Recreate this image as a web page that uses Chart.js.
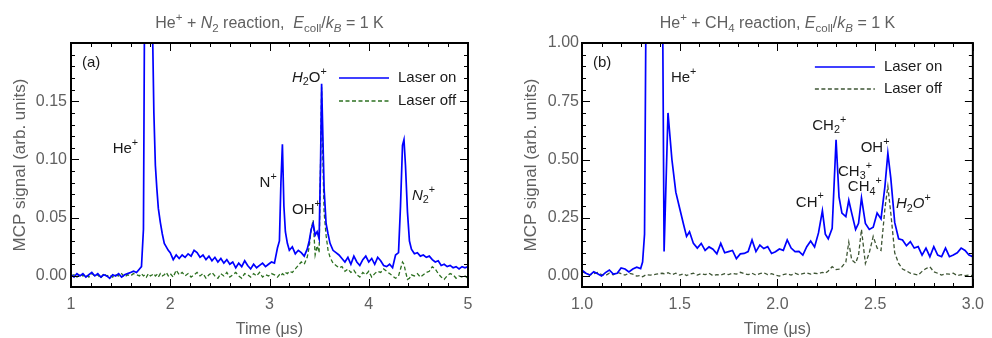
<!DOCTYPE html>
<html>
<head>
<meta charset="utf-8">
<script src="https://cdn.jsdelivr.net/npm/chart.js@4"></script>
<style>
  html, body { margin: 0; padding: 0; background: #fff; }
  .panneaux { position: relative; width: 992px; height: 338px; }
  .panneaux canvas { position: absolute; top: 0; }
</style>
</head>
<body>
<div class="panneaux">
  <canvas id="graphe-n2" width="496" height="338" style="left:0"></canvas>
  <canvas id="graphe-ch4" width="496" height="338" style="left:496px"></canvas>
</div>
<script>
// --- (a) He+ + N2 : temps de vol (µs) et signal MCP ---
const tempsA = [
  1.00, 1.03, 1.06, 1.09, 1.12, 1.15, 1.18, 1.21, 1.24, 1.27,
  1.30, 1.33, 1.36, 1.39, 1.42, 1.45, 1.48, 1.51, 1.54, 1.57,
  1.60, 1.63, 1.66, 1.69, 1.71, 1.73, 1.745, 1.76, 1.78, 1.80,
  1.82, 1.835, 1.85, 1.865, 1.88, 1.90, 1.92, 1.94, 1.96, 1.98,
  2.00, 2.03, 2.06, 2.09, 2.12, 2.15, 2.18, 2.21, 2.24, 2.27,
  2.30, 2.33, 2.36, 2.39, 2.42, 2.45, 2.48, 2.51, 2.54, 2.57,
  2.60, 2.63, 2.66, 2.69, 2.72, 2.75, 2.78, 2.81, 2.84, 2.87,
  2.90, 2.93, 2.96, 2.99, 3.02, 3.05, 3.08, 3.10, 3.115, 3.13,
  3.145, 3.16, 3.18, 3.20, 3.23, 3.26, 3.29, 3.32, 3.35, 3.38,
  3.40, 3.42, 3.44, 3.46, 3.48, 3.50, 3.515, 3.525, 3.535, 3.55,
  3.57, 3.59, 3.61, 3.64, 3.67, 3.70, 3.73, 3.76, 3.79, 3.82,
  3.85, 3.88, 3.91, 3.94, 3.97, 4.00, 4.03, 4.06, 4.09, 4.12,
  4.15, 4.18, 4.21, 4.24, 4.27, 4.30, 4.32, 4.34, 4.355, 4.37,
  4.39, 4.41, 4.43, 4.46, 4.49, 4.52, 4.55, 4.58, 4.61, 4.64,
  4.67, 4.70, 4.73, 4.76, 4.79, 4.82, 4.85, 4.88, 4.91, 4.94,
  4.97, 5.00,
];
const laserOnA = [
  0.001, -0.001, 0.002, 0.000, 0.002, -0.001, 0.001, 0.003, 0.000, 0.002,
  -0.001, 0.001, 0.000, -0.002, 0.001, 0.000, 0.002, -0.001, 0.001, 0.002,
  0.003, 0.004, 0.003, 0.006, 0.008, 0.040, 0.300, 0.900, 1.000, 0.800,
  0.220, 0.140, 0.095, 0.075, 0.058, 0.046, 0.036, 0.028, 0.025, 0.022,
  0.020, 0.014, 0.018, 0.015, 0.018, 0.016, 0.019, 0.017, 0.022, 0.020,
  0.016, 0.018, 0.014, 0.017, 0.013, 0.016, 0.012, 0.015, 0.011, 0.014,
  0.010, 0.012, 0.007, 0.011, 0.008, 0.013, 0.009, 0.006, 0.010, 0.007,
  0.009, 0.011, 0.008, 0.010, 0.012, 0.011, 0.024, 0.030, 0.080, 0.113,
  0.060, 0.038, 0.028, 0.022, 0.025, 0.019, 0.022, 0.020, 0.017, 0.023,
  0.030, 0.040, 0.045, 0.035, 0.038, 0.032, 0.100, 0.165, 0.130, 0.075,
  0.045, 0.036, 0.028, 0.022, 0.020, 0.018, 0.015, 0.012, 0.016, 0.010,
  0.017, 0.012, 0.009, 0.014, 0.017, 0.012, 0.015, 0.010, 0.016, 0.013,
  0.009, 0.008, 0.010, 0.007, 0.018, 0.020, 0.060, 0.112, 0.117, 0.095,
  0.055, 0.030, 0.023, 0.019, 0.020, 0.017, 0.018, 0.016, 0.017, 0.014,
  0.012, 0.013, 0.009, 0.010, 0.008, 0.009, 0.007, 0.008, 0.006, 0.008,
  0.007, 0.008,
];
const laserOffA = [
  0.000, 0.001, -0.001, 0.002, 0.000, 0.001, -0.001, 0.002, 0.000, 0.001,
  -0.002, 0.002, 0.000, 0.001, -0.001, 0.001, 0.000, 0.002, -0.001, 0.001,
  0.000, 0.002, 0.001, 0.000, 0.002, 0.000, 0.001, -0.001, 0.002, 0.000,
  0.001, 0.002, 0.000, 0.001, -0.001, 0.002, 0.000, 0.001, 0.003, 0.000,
  0.002, -0.001, 0.005, 0.001, 0.003, 0.000, 0.002, -0.001, 0.001, 0.003,
  0.000, 0.002, -0.002, 0.001, 0.003, 0.000, -0.002, 0.002, 0.000, 0.003,
  -0.001, 0.001, 0.003, 0.000, -0.002, 0.002, 0.001, -0.001, 0.002, 0.000,
  0.003, -0.001, 0.001, 0.000, 0.002, 0.001, -0.001, 0.001, 0.000, 0.002,
  0.001, 0.003, 0.002, 0.004, 0.003, 0.006, 0.009, 0.012, 0.010, 0.016,
  0.025, 0.040, 0.048, 0.018, 0.026, 0.020, 0.100, 0.162, 0.110, 0.055,
  0.035, 0.022, 0.016, 0.011, 0.009, 0.007, 0.008, 0.004, 0.006, 0.003,
  0.005, 0.001, -0.001, 0.003, 0.001, 0.004, -0.001, 0.002, 0.004, 0.003,
  0.006, 0.004, 0.002, 0.000, -0.002, 0.000, 0.006, 0.012, 0.010, 0.004,
  -0.003, -0.002, 0.001, 0.000, 0.002, -0.001, 0.001, 0.003, 0.004, 0.008,
  0.006, 0.002, -0.001, -0.003, 0.000, 0.002, 0.001, -0.002, 0.000, -0.001,
  0.000, -0.002,
];
const ticksXA = [1, 2, 3, 4, 5];
const ticksYA = [0, 0.05, 0.10, 0.15];

// --- (b) He+ + CH4 ---
const tempsB = [
  1.00, 1.02, 1.04, 1.06, 1.08, 1.10, 1.12, 1.14, 1.16, 1.18,
  1.20, 1.22, 1.24, 1.26, 1.28, 1.30, 1.31, 1.32, 1.33, 1.35,
  1.38, 1.41, 1.42, 1.44, 1.46, 1.48, 1.50, 1.52, 1.535, 1.55,
  1.57, 1.59, 1.61, 1.63, 1.65, 1.67, 1.69, 1.71, 1.73, 1.75,
  1.77, 1.79, 1.81, 1.83, 1.85, 1.87, 1.89, 1.91, 1.93, 1.95,
  1.97, 1.99, 2.01, 2.03, 2.05, 2.07, 2.09, 2.11, 2.13, 2.15,
  2.17, 2.19, 2.21, 2.23, 2.245, 2.26, 2.28, 2.30, 2.315, 2.33,
  2.35, 2.365, 2.38, 2.40, 2.415, 2.43, 2.45, 2.47, 2.49, 2.51,
  2.53, 2.55, 2.565, 2.58, 2.60, 2.62, 2.64, 2.66, 2.68, 2.70,
  2.72, 2.74, 2.76, 2.78, 2.80, 2.82, 2.84, 2.86, 2.88, 2.90,
  2.92, 2.94, 2.96, 2.98, 3.00,
];
const laserOnB = [
  0.025, 0.012, 0.004, 0.018, 0.010, 0.000, 0.015, 0.026, 0.008, 0.012,
  0.035, 0.030, 0.018, 0.030, 0.038, 0.032, 0.060, 0.180, 1.500, 3.000,
  3.000, 1.500, 0.105, 0.700, 0.500, 0.360, 0.290, 0.220, 0.170, 0.190,
  0.140, 0.120, 0.140, 0.110, 0.125, 0.115, 0.095, 0.140, 0.100, 0.105,
  0.110, 0.075, 0.095, 0.097, 0.105, 0.155, 0.105, 0.133, 0.118, 0.126,
  0.097, 0.104, 0.116, 0.110, 0.155, 0.120, 0.105, 0.106, 0.090, 0.126,
  0.150, 0.125, 0.185, 0.280, 0.180, 0.160, 0.205, 0.585, 0.340, 0.270,
  0.255, 0.325, 0.270, 0.200, 0.226, 0.335, 0.226, 0.200, 0.210, 0.270,
  0.245, 0.385, 0.527, 0.420, 0.230, 0.160, 0.155, 0.130, 0.148, 0.120,
  0.126, 0.090, 0.120, 0.083, 0.126, 0.090, 0.083, 0.120, 0.083, 0.090,
  0.100, 0.120, 0.110, 0.090, 0.083,
];
const laserOffB = [
  0.018, 0.012, 0.004, 0.010, 0.015, 0.006, 0.002, 0.012, 0.005, 0.016,
  0.010, 0.004, 0.012, 0.008, 0.000, 0.002, -0.003, 0.002, 0.006, 0.004,
  0.008, 0.012, 0.010, 0.014, 0.006, 0.012, 0.004, 0.010, 0.002, 0.008,
  0.012, 0.004, 0.010, 0.006, 0.012, 0.002, 0.006, 0.004, 0.010, 0.006,
  0.012, 0.008, 0.016, 0.010, 0.006, 0.012, 0.004, 0.010, 0.014, 0.006,
  0.010, 0.004, 0.000, 0.006, 0.010, 0.004, 0.012, 0.006, 0.010, 0.014,
  0.008, 0.012, 0.010, 0.016, 0.012, 0.022, 0.040, 0.028, 0.030, 0.040,
  0.060, 0.145, 0.070, 0.055, 0.090, 0.200, 0.054, 0.100, 0.170, 0.120,
  0.110, 0.290, 0.385, 0.270, 0.100, 0.054, 0.030, 0.022, 0.012, 0.008,
  0.004, 0.020, 0.032, 0.040, 0.018, 0.012, 0.004, 0.010, 0.008, 0.012,
  0.002, 0.006, 0.002, 0.004, 0.002,
];
const ticksXB = [1, 1.5, 2, 2.5, 3];
const ticksYB = [0, 0.25, 0.50, 0.75, 1.00];

// Étiquettes des pics (coordonnées données : temps, signal)
const picsA = [
  { t: 1.11, v: 0.183, txt: [['(a)']] },
  { t: 1.42, v: 0.109, txt: [['He'], ['+', 'sup']] },
  { t: 2.90, v: 0.080, txt: [['N'], ['+', 'sup']] },
  { t: 3.227, v: 0.057, txt: [['OH'], ['+', 'sup']] },
  { t: 3.227, v: 0.170, txt: [['H', 'it'], ['2', 'sub'], ['O'], ['+', 'sup']] },
  { t: 4.436, v: 0.069, txt: [['N', 'it'], ['2', 'sub'], ['+', 'sup']] },
];
const picsB = [
  { t: 1.056, v: 0.915, txt: [['(b)']] },
  { t: 1.455, v: 0.85, txt: [['He'], ['+', 'sup']] },
  { t: 2.094, v: 0.316, txt: [['CH'], ['+', 'sup']] },
  { t: 2.178, v: 0.644, txt: [['CH'], ['2', 'sub'], ['+', 'sup']] },
  { t: 2.31, v: 0.448, txt: [['CH'], ['3', 'sub'], ['+', 'sup']] },
  { t: 2.36, v: 0.381, txt: [['CH'], ['4', 'sub'], ['+', 'sup']] },
  { t: 2.426, v: 0.548, txt: [['OH'], ['+', 'sup']] },
  { t: 2.606, v: 0.309, txt: [['H', 'it'], ['2', 'sub'], ['O', 'it'], ['+', 'sup']] },
];

const POLICE = "'Liberation Sans', Arial, sans-serif";
const GRIS = '#606060';
const BLEU = '#0000ff';

// Texte avec indices / exposants / italique
function tailleRiche(ctx, morceaux, taille) {
  let w = 0;
  for (const [t, style] of morceaux) {
    const petit = style === 'sub' || style === 'sup' || style === 'subit';
    ctx.font = `${style && style.includes('it') ? 'italic ' : ''}${petit ? taille * 0.72 : taille}px ${POLICE}`;
    w += ctx.measureText(t).width;
  }
  return w;
}
function texteRiche(ctx, morceaux, x, y, taille, centre) {
  let cx = centre ? x - tailleRiche(ctx, morceaux, taille) / 2 : x;
  ctx.textBaseline = 'middle';
  ctx.textAlign = 'left';
  for (const [t, style] of morceaux) {
    let dy = 0, fs = taille;
    if (style === 'sub' || style === 'subit') { fs = taille * 0.72; dy = taille * 0.3; }
    if (style === 'sup') { fs = taille * 0.72; dy = -taille * 0.4; }
    ctx.font = `${style && style.includes('it') ? 'italic ' : ''}${fs}px ${POLICE}`;
    ctx.fillText(t, cx, y + dy);
    cx += ctx.measureText(t).width;
  }
}

// Cadre, graduations intérieures, titre, étiquettes et légende
const decor = {
  id: 'decor',
  afterDraw(chart, args, opts) {
    const { ctx, chartArea: a, scales: { x, y } } = chart;
    ctx.save();
    ctx.strokeStyle = '#000';
    ctx.lineWidth = 1;
    const graduer = (scale, pas, long) => {
      const n0 = Math.ceil(scale.min / pas - 1e-6), n1 = Math.floor(scale.max / pas + 1e-6);
      for (let n = n0; n <= n1; n++) {
        const p = Math.round(scale.getPixelForValue(n * pas)) + 0.5;
        ctx.beginPath();
        if (scale.isHorizontal()) {
          ctx.moveTo(p, a.bottom); ctx.lineTo(p, a.bottom - long);
          ctx.moveTo(p, a.top); ctx.lineTo(p, a.top + long);
        } else {
          ctx.moveTo(a.left, p); ctx.lineTo(a.left + long, p);
          ctx.moveTo(a.right, p); ctx.lineTo(a.right - long, p);
        }
        ctx.stroke();
      }
    };
    graduer(x, opts.mineurX, 4);
    graduer(x, opts.majeurX, 8);
    graduer(y, opts.mineurY, 4);
    graduer(y, opts.majeurY, 8);
    ctx.lineWidth = 2;
    ctx.strokeRect(a.left, a.top, a.right - a.left, a.bottom - a.top);

    ctx.fillStyle = GRIS;
    texteRiche(ctx, opts.titre, (a.left + a.right) / 2, 24, 16, true);

    ctx.fillStyle = '#1a1a1a';
    for (const p of opts.pics) {
      texteRiche(ctx, p.txt, x.getPixelForValue(p.t), y.getPixelForValue(p.v), 15, false);
    }

    const L = opts.legende;
    chart.data.datasets.forEach((ds, i) => {
      const yy = a.top + L.y[i];
      ctx.strokeStyle = ds.borderColor;
      ctx.lineWidth = ds.borderWidth;
      ctx.setLineDash(ds.borderDash || []);
      ctx.beginPath();
      ctx.moveTo(a.right - L.debut, yy);
      ctx.lineTo(a.right - L.fin, yy);
      ctx.stroke();
      ctx.setLineDash([]);
      ctx.fillStyle = '#1a1a1a';
      ctx.font = `15px ${POLICE}`;
      ctx.textBaseline = 'middle';
      ctx.fillText(ds.label, a.right - L.texte, yy);
    });
    ctx.restore();
  },
};

function serie(temps, valeurs) {
  return temps.map((t, i) => ({ x: t, y: valeurs[i] }));
}

function creerPanneau(canvas, cfg) {
  return new Chart(canvas, {
    type: 'line',
    data: {
      datasets: [
        { label: 'Laser on', data: serie(cfg.temps, cfg.on), borderColor: BLEU, borderWidth: 1.7 },
        { label: 'Laser off', data: serie(cfg.temps, cfg.off), borderColor: cfg.vert, borderWidth: 1.3, borderDash: [4, 2.5] },
      ],
    },
    options: {
      responsive: false,
      animation: false,
      elements: { point: { radius: 0 }, line: { tension: 0 } },
      layout: { padding: { top: 43, right: cfg.droite, bottom: 0, left: 0 } },
      plugins: {
        legend: { display: false },
        tooltip: { enabled: false },
        decor: cfg.decor,
      },
      scales: {
        x: {
          type: 'linear', min: cfg.xMin, max: cfg.xMax,
          afterBuildTicks: (s) => { s.ticks = cfg.ticksX.map((v) => ({ value: v })); },
          afterFit: (s) => { s.height = 51; },
          grid: { display: false, drawTicks: false },
          border: { display: false },
          ticks: { padding: 8, maxRotation: 0, autoSkip: false, color: GRIS, font: { family: POLICE, size: 16 }, callback: (v) => v.toFixed(cfg.decX) },
          title: { display: true, text: 'Time (μs)', color: GRIS, font: { family: POLICE, size: 16, lineHeight: 1 }, padding: 0 },
        },
        y: {
          type: 'linear', min: cfg.yMin, max: cfg.yMax,
          afterBuildTicks: (s) => { s.ticks = cfg.ticksY.map((v) => ({ value: v })); },
          afterFit: (s) => { s.width = cfg.gauche; },
          grid: { display: false, drawTicks: false },
          border: { display: false },
          ticks: { padding: cfg.padY, autoSkip: false, color: GRIS, font: { family: POLICE, size: 16 }, callback: (v) => v.toFixed(2) },
          title: { display: true, text: 'MCP signal (arb. units)', color: GRIS, font: { family: POLICE, size: 17, lineHeight: 1 }, padding: { top: cfg.titreY, bottom: 0 } },
        },
      },
    },
    plugins: [decor],
  });
}

creerPanneau(document.getElementById('graphe-n2'), {
  temps: tempsA, on: laserOnA, off: laserOffA, vert: '#2c7020',
  xMin: 1, xMax: 5, yMin: -0.0095, yMax: 0.2, ticksX: ticksXA, ticksY: ticksYA, decX: 0,
  gauche: 71, droite: 28, padY: 4, titreY: 11.5,
  decor: {
    mineurX: 0.2, majeurX: 1, mineurY: 0.01, majeurY: 0.05,
    titre: [['He'], ['+', 'sup'], [' + '], ['N', 'it'], ['2', 'sub'], [' reaction,  '], ['E', 'it'], ['coll', 'sub'], ['/'], ['k', 'it'], ['B', 'subit'], [' = 1 K']],
    pics: picsA,
    legende: { debut: 129, fin: 79, texte: 70, y: [35, 58] },
  },
});

creerPanneau(document.getElementById('graphe-ch4'), {
  temps: tempsB, on: laserOnB, off: laserOffB, vert: '#3e5534',
  xMin: 1, xMax: 3, yMin: -0.047, yMax: 1, ticksX: ticksXB, ticksY: ticksYB, decX: 1,
  gauche: 86, droite: 14, padY: 3, titreY: 26.5,
  decor: {
    mineurX: 0.1, majeurX: 0.5, mineurY: 0.05, majeurY: 0.25,
    titre: [['He'], ['+', 'sup'], [' + CH'], ['4', 'sub'], [' reaction, '], ['E', 'it'], ['coll', 'sub'], ['/'], ['k', 'it'], ['B', 'subit'], [' = 1 K']],
    pics: picsB,
    legende: { debut: 158, fin: 98, texte: 89, y: [24, 46] },
  },
});
</script>
</body>
</html>
